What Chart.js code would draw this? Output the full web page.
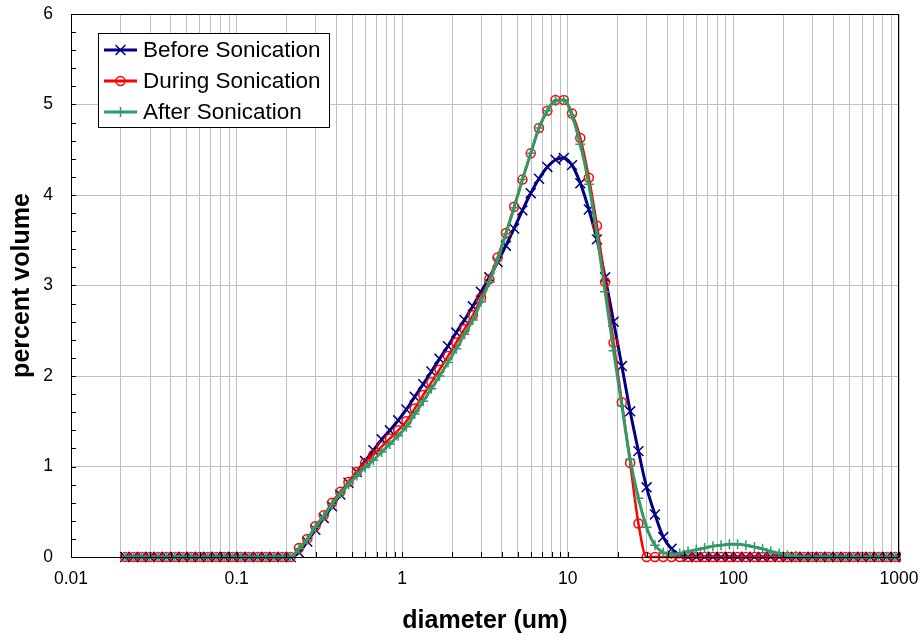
<!DOCTYPE html>
<html>
<head>
<meta charset="utf-8">
<title>Particle size distribution</title>
<script src="https://cdn.jsdelivr.net/npm/chart.js@4/dist/chart.umd.min.js"></script>
<style>
  html, body { margin: 0; padding: 0; background: #fff; }
  #wrap { width: 923px; height: 636px; }
</style>
</head>
<body>
<div id="wrap"><canvas id="psd" width="923" height="636"></canvas></div>
<script>
// particle diameters (um), one per size class
const sizes = [
  0.0212, 0.0238, 0.0267, 0.0299, 0.0336, 0.0377, 0.0423, 0.0474, 0.0532, 0.0597,
  0.0670, 0.0752, 0.0843, 0.0946, 0.106, 0.119, 0.134, 0.150, 0.168, 0.189,
  0.212, 0.238, 0.267, 0.299, 0.336, 0.377, 0.423, 0.474, 0.532, 0.597,
  0.670, 0.752, 0.843, 0.946, 1.06, 1.19, 1.34, 1.50, 1.68, 1.89,
  2.12, 2.38, 2.67, 2.99, 3.36, 3.77, 4.23, 4.74, 5.32, 5.97,
  6.70, 7.52, 8.43, 9.46, 10.6, 11.9, 13.4, 15.0, 16.8, 18.9,
  21.2, 23.8, 26.7, 29.9, 33.6, 37.7, 42.3, 47.4, 53.2, 59.7,
  67.0, 75.2, 84.3, 94.6, 106, 119, 134, 150, 168, 189,
  212, 238, 267, 299, 336, 377, 423, 474, 532, 597,
  670, 752, 843, 946, 1062
];

// percent volume per size class
const beforeSonication = [
  0, 0, 0, 0, 0, 0, 0, 0, 0, 0,
  0, 0, 0, 0, 0, 0, 0, 0, 0, 0,
  0, 0.05, 0.17, 0.30, 0.43, 0.56, 0.69, 0.82, 0.94, 1.06,
  1.18, 1.30, 1.40, 1.51, 1.63, 1.77, 1.91, 2.05, 2.19, 2.33,
  2.48, 2.62, 2.77, 2.93, 3.09, 3.26, 3.44, 3.63, 3.83, 4.02,
  4.18, 4.31, 4.39, 4.41, 4.33, 4.13, 3.84, 3.51, 3.09, 2.60,
  2.11, 1.61, 1.17, 0.77, 0.47, 0.22, 0.09, 0.02, 0, 0,
  0, 0, 0, 0, 0, 0, 0, 0, 0, 0,
  0, 0, 0, 0, 0, 0, 0, 0, 0, 0,
  0, 0, 0, 0, 0
];

const duringSonication = [
  0, 0, 0, 0, 0, 0, 0, 0, 0, 0,
  0, 0, 0, 0, 0, 0, 0, 0, 0, 0,
  0, 0.10, 0.20, 0.34, 0.46, 0.60, 0.72, 0.83, 0.94, 1.04,
  1.13, 1.22, 1.31, 1.40, 1.50, 1.64, 1.79, 1.93, 2.07, 2.22,
  2.37, 2.52, 2.67, 2.86, 3.07, 3.31, 3.58, 3.87, 4.17, 4.46,
  4.74, 4.93, 5.05, 5.05, 4.90, 4.63, 4.19, 3.66, 3.04, 2.37,
  1.71, 1.04, 0.37, 0, 0, 0, 0, 0, 0, 0,
  0, 0, 0, 0, 0, 0, 0, 0, 0, 0,
  0, 0, 0, 0, 0, 0, 0, 0, 0, 0,
  0, 0, 0, 0, 0
];

const afterSonication = [
  0, 0, 0, 0, 0, 0, 0, 0, 0, 0,
  0, 0, 0, 0, 0, 0, 0, 0, 0, 0,
  0, 0.09, 0.19, 0.33, 0.45, 0.58, 0.70, 0.80, 0.90, 0.99,
  1.07, 1.16, 1.25, 1.34, 1.44, 1.58, 1.72, 1.86, 2.00, 2.15,
  2.30, 2.46, 2.62, 2.82, 3.04, 3.29, 3.57, 3.86, 4.17, 4.46,
  4.74, 4.93, 5.04, 5.05, 4.88, 4.56, 4.12, 3.56, 2.93, 2.28,
  1.67, 1.08, 0.65, 0.33, 0.13, 0.05, 0.03, 0.04, 0.06, 0.08,
  0.10, 0.12, 0.13, 0.14, 0.14, 0.13, 0.11, 0.09, 0.06, 0.04,
  0.02, 0.01, 0, 0, 0, 0, 0, 0, 0, 0,
  0, 0, 0, 0, 0
];

const seriesNames = ['Before Sonication', 'During Sonication', 'After Sonication'];
const seriesColors = ['#000080', '#ff0000', '#339966'];
const xTickLabels = ['0.01', '0.1', '1', '10', '100', '1000'];
const yTickLabels = ['0', '1', '2', '3', '4', '5', '6'];

const FONT = "'Liberation Sans', Arial, Helvetica, sans-serif";
const pts = vals => sizes.map((d, i) => ({ x: d, y: vals[i] }));

// gridline positions: 1..9 per decade
function decadeTicks(min, max) {
    const out = [];
    for (let e = Math.round(Math.log10(min)); e < Math.round(Math.log10(max)); e++) {
        for (let s = 1; s < 10; s++) out.push({ value: +(s * Math.pow(10, e)).toPrecision(3) });
    }
    out.push({ value: max });
    return out;
}

const markerStyles = ['crossRot', 'circle', 'cross'];

const frame = {
    id: 'frame',
    afterDraw(chart) {
        const { ctx, chartArea: a, scales } = chart;
        ctx.save();
        // plot border
        ctx.strokeStyle = '#000';
        ctx.lineWidth = 1;
        ctx.strokeRect(a.left + 0.5, a.top + 0.5, a.right - a.left - 1, a.bottom - a.top);
        // inward tick marks
        ctx.beginPath();
        for (let v = 0; v <= 6.001; v += 0.2) {
            const y = Math.round(scales.y.getPixelForValue(v)) + 0.5;
            ctx.moveTo(a.left, y); ctx.lineTo(a.left + 5, y);
        }
        scales.x.ticks.forEach(t => {
            const x = Math.round(scales.x.getPixelForValue(t.value)) + 0.5;
            ctx.moveTo(x, a.bottom); ctx.lineTo(x, a.bottom - 5);
        });
        ctx.stroke();

        // legend box
        const bx = 98, by = 33, bw = 231, bh = 94, rowH = 31;
        ctx.fillStyle = '#fff';
        ctx.fillRect(bx, by, bw, bh);
        ctx.strokeStyle = '#000';
        ctx.strokeRect(bx + 0.5, by + 0.5, bw, bh);
        ctx.font = '22.5px ' + FONT;
        ctx.textBaseline = 'middle';
        chart.data.datasets.forEach((ds, i) => {
            const y = by + 17 + i * rowH;
            ctx.strokeStyle = ds.borderColor;
            ctx.lineWidth = 3;
            ctx.beginPath();
            ctx.moveTo(bx + 6, y); ctx.lineTo(bx + 39, y);
            ctx.stroke();
            ctx.lineWidth = 1.5;
            ctx.fillStyle = ds.pointBackgroundColor;
            Chart.helpers.drawPoint(ctx, {
                pointStyle: ds.pointStyle, radius: ds.pointRadius, borderWidth: 1.5, rotation: 0
            }, bx + 22.5, y);
            ctx.fillStyle = '#000';
            ctx.fillText(ds.label, bx + 45, y + 1);
        });
        ctx.restore();
    }
};

new Chart(document.getElementById('psd'), {
    type: 'line',
    data: {
        datasets: [beforeSonication, duringSonication, afterSonication].map((vals, i) => ({
            label: seriesNames[i],
            data: pts(vals),
            borderColor: seriesColors[i],
            backgroundColor: 'rgba(0,0,0,0)',
            pointBorderColor: seriesColors[i],
            pointBackgroundColor: i === 1 ? 'rgba(0,0,0,0)' : seriesColors[i],
            borderWidth: i === 1 ? 2.5 : 3,
            pointStyle: markerStyles[i],
            pointRadius: i === 0 ? 7 : (i === 1 ? 4.5 : 5),
            pointBorderWidth: 1.5,
            cubicInterpolationMode: 'monotone',
            order: 2 - i,
            clip: { left: 10, top: 10, right: 2, bottom: 10 }
        }))
    },
    options: {
        responsive: false,
        animation: false,
        events: [],
        layout: { padding: { left: 0, top: 14, right: 24, bottom: 0 } },
        plugins: { legend: { display: false }, tooltip: { enabled: false } },
        scales: {
            x: {
                type: 'logarithmic',
                min: 0.01,
                max: 1000,
                afterBuildTicks: s => { s.ticks = decadeTicks(0.01, 1000); },
                afterFit: s => { s.height = 79; s.paddingLeft = 0; s.paddingRight = 0; },
                grid: { color: '#c0c0c0', lineWidth: 1, drawTicks: false },
                border: { display: true, color: '#000', width: 1 },
                ticks: {
                    autoSkip: false,
                    maxRotation: 0,
                    padding: 12,
                    color: '#000',
                    font: { family: FONT, size: 17.5 },
                    callback: v => {
                        const e = Math.log10(v);
                        return Math.abs(e - Math.round(e)) < 1e-6 ? xTickLabels[Math.round(e) + 2] : '';
                    }
                },
                title: {
                    display: true,
                    text: 'diameter (um)',
                    color: '#000',
                    font: { family: FONT, size: 25, weight: 'bold', lineHeight: 1.2 },
                    padding: { top: 0, bottom: 0 }
                }
            },
            y: {
                min: 0,
                max: 6,
                afterFit: s => { s.width = 71; s.paddingTop = 0; s.paddingBottom = 0; },
                grid: { color: '#c0c0c0', lineWidth: 1, drawTicks: false },
                border: { display: true, color: '#000', width: 1 },
                ticks: {
                    stepSize: 1,
                    padding: 18,
                    color: '#000',
                    font: { family: FONT, size: 17.5 },
                    callback: (v, i) => yTickLabels[i]
                },
                title: {
                    display: true,
                    text: 'percent volume',
                    color: '#000',
                    font: { family: FONT, size: 25, weight: 'bold', lineHeight: 1.2 },
                    padding: { top: 7, bottom: 0 }
                }
            }
        }
    },
    plugins: [frame]
});
</script>
</body>
</html>
